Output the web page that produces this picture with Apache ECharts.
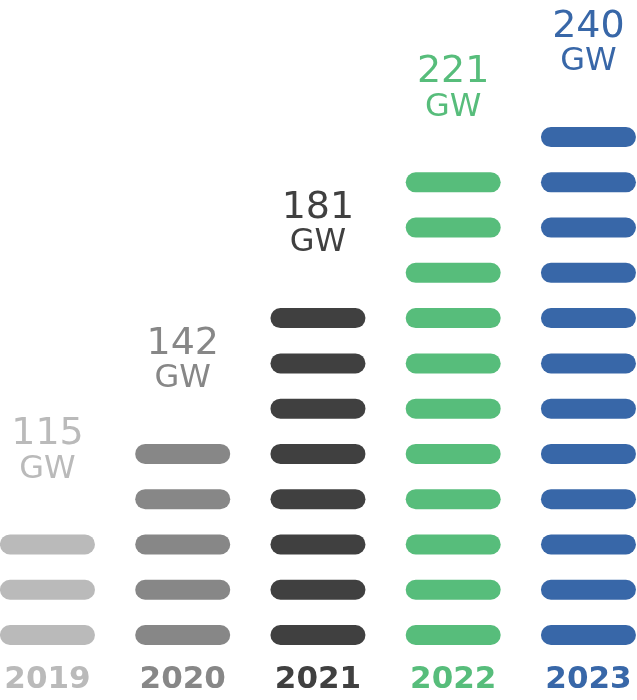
<!DOCTYPE html>
<html>
<head>
<meta charset="utf-8">
<script src="https://cdn.jsdelivr.net/npm/echarts@6/dist/echarts.min.js"></script>
<style>
html,body{margin:0;padding:0;background:#fff;}
#chart{width:637px;height:700px;}
</style>
</head>
<body>
<div id="chart"></div>
<script>
var years = ['2019', '2020', '2021', '2022', '2023'];
var pillCounts = [3, 5, 8, 11, 12];
var capacityGW = [115, 142, 181, 221, 240];
var unitLabel = 'GW';
var colors = ['#bababa', '#878787', '#404040', '#57bd7b', '#3867a8'];

var chart = echarts.init(document.getElementById('chart'), null, {renderer: 'canvas'});

var seriesData = years.map(function (y, i) {
  return [i, pillCounts[i], capacityGW[i]];
});

var option = {
  animation: false,
  backgroundColor: '#ffffff',
  grid: {left: 0, right: 0, top: 91.8, bottom: 42.4},
  xAxis: {
    type: 'value',
    min: -0.351,
    max: 4.359,
    show: false,
    splitLine: {show: false}
  },
  yAxis: {
    type: 'value',
    min: 0.5,
    max: 13,
    show: false,
    splitLine: {show: false}
  },
  series: [{
    type: 'custom',
    clip: false,
    data: seriesData,
    renderItem: function (params, api) {
      var idx = api.value(0);
      var n = api.value(1);
      var v = api.value(2);
      var color = colors[idx];
      var children = [];
      for (var k = 1; k <= n; k++) {
        var p = api.coord([idx, k]);
        children.push({
          type: 'rect',
          shape: {x: p[0] - 47.5, y: p[1] - 10, width: 95, height: 20, r: 10},
          style: {fill: color}
        });
      }
      var top = api.coord([idx, n]);
      children.push({
        type: 'text',
        style: {
          x: top[0], y: top[1] - 110,
          text: String(v),
          fill: color,
          font: '38px "DejaVu Sans", sans-serif',
          textAlign: 'center', textVerticalAlign: 'middle'
        }
      });
      children.push({
        type: 'text',
        style: {
          x: top[0], y: top[1] - 75,
          text: unitLabel,
          fill: color,
          font: '32px "DejaVu Sans", sans-serif',
          textAlign: 'center', textVerticalAlign: 'middle'
        }
      });
      var base = api.coord([idx, 0.5]);
      children.push({
        type: 'text',
        style: {
          x: base[0], y: base[1] + 22,
          text: years[idx],
          fill: color,
          font: 'bold 31px "DejaVu Sans", sans-serif',
          textAlign: 'center', textVerticalAlign: 'middle'
        }
      });
      return {type: 'group', children: children};
    }
  }]
};
chart.setOption(option);
</script>
</body>
</html>
